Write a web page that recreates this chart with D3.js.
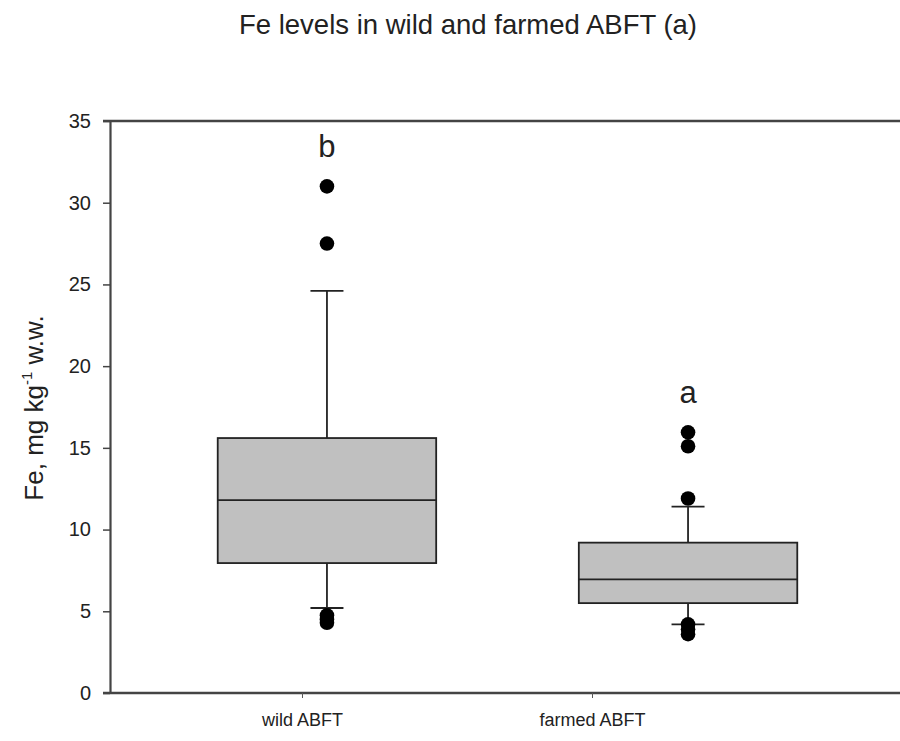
<!DOCTYPE html>
<html>
<head>
<meta charset="utf-8">
<script src="https://cdn.jsdelivr.net/npm/d3@7"></script>
<style>
  body { margin: 0; background: #fff; }
  text { font-family: "Liberation Sans", Arial, sans-serif; fill: #222; }
</style>
</head>
<body>
<div id="holder"></div>
<script>
// group names and letters
const groups = ["wild ABFT", "farmed ABFT"];
const letters = ["b", "a"];

// box stats per group: [lowCap, q1, median, q3, highCap]
const lowCaps = [5.2, 4.2];
const q1s = [7.95, 5.5];
const medians = [11.8, 6.95];
const q3s = [15.6, 9.2];
const highCaps = [24.6, 11.4];

// outliers per group
const outliersWild = [31.0, 27.5, 4.75, 4.5, 4.3];
const outliersFarmed = [15.95, 15.1, 11.9, 4.2, 3.9, 3.6];

const yTicks = [0, 5, 10, 15, 20, 25, 30, 35];

const w = 900, h = 741;
const margin = {top: 121, right: 0, bottom: 48, left: 110};

const svg = d3.select("#holder")
    .append("svg")
    .attr("width", w)
    .attr("height", h);

const yScale = d3.scaleLinear()
    .domain([0, 35])
    .range([h - margin.bottom, margin.top]);

// boxes sit on one point scale, the category labels on a slightly different one
const xScale = d3.scalePoint()
    .domain(groups)
    .range([margin.left + 5, w - margin.right])
    .padding(0.587);

const xLabelScale = d3.scalePoint()
    .domain(groups)
    .range([margin.left, 784])
    .padding(0.662);

const boxWidth = xScale.step() * 0.605;
const capWidth = 33;

const data = groups.map((g, i) => ({
    name: g,
    letter: letters[i],
    low: lowCaps[i], q1: q1s[i], med: medians[i], q3: q3s[i], high: highCaps[i],
    outliers: [outliersWild, outliersFarmed][i]
}));

// axes
const yAxis = d3.axisLeft(yScale)
    .tickValues(yTicks)
    .tickSize(7)
    .tickSizeOuter(0)
    .tickPadding(12);

svg.append("g")
    .attr("transform", `translate(${margin.left},0)`)
    .call(yAxis)
    .call(g => g.select(".domain").attr("stroke", "#444").attr("stroke-width", 2.2))
    .call(g => g.selectAll(".tick line").attr("stroke", "#444").attr("stroke-width", 1.5))
    .call(g => g.selectAll(".tick text").style("font-size", "20px").attr("fill", "#222"));

const xAxis = d3.axisBottom(xLabelScale)
    .tickSize(5)
    .tickSizeOuter(0)
    .tickPadding(15);

svg.append("g")
    .attr("transform", `translate(0,${yScale(0)})`)
    .call(xAxis)
    .call(g => g.select(".domain").attr("stroke", "#444").attr("stroke-width", 2.6)
        .attr("d", `M${margin.left - 7},0H${w}`))
    .call(g => g.selectAll(".tick line").attr("stroke", "#555").attr("stroke-width", 1))
    .call(g => g.selectAll(".tick text").style("font-size", "18px").attr("fill", "#222"));

// top border
svg.append("line")
    .attr("x1", margin.left - 7).attr("x2", w)
    .attr("y1", yScale(35)).attr("y2", yScale(35))
    .attr("stroke", "#444").attr("stroke-width", 2.6);

// boxes
const box = svg.selectAll("g.box")
    .data(data)
    .enter()
    .append("g")
    .attr("class", "box");

box.append("line")
    .attr("x1", d => xScale(d.name)).attr("x2", d => xScale(d.name))
    .attr("y1", d => yScale(d.high)).attr("y2", d => yScale(d.low))
    .attr("stroke", "#222").attr("stroke-width", 1.8);

box.append("rect")
    .attr("x", d => xScale(d.name) - boxWidth / 2)
    .attr("width", boxWidth)
    .attr("y", d => yScale(d.q3))
    .attr("height", d => yScale(d.q1) - yScale(d.q3))
    .attr("fill", "#c0c0c0")
    .attr("stroke", "#222")
    .attr("stroke-width", 1.8);

box.append("line")
    .attr("x1", d => xScale(d.name) - boxWidth / 2).attr("x2", d => xScale(d.name) + boxWidth / 2)
    .attr("y1", d => yScale(d.med)).attr("y2", d => yScale(d.med))
    .attr("stroke", "#222").attr("stroke-width", 1.8);

box.selectAll("line.cap")
    .data(d => [d.low, d.high].map(v => ({x: xScale(d.name), v})))
    .enter()
    .append("line")
    .attr("class", "cap")
    .attr("x1", d => d.x - capWidth / 2).attr("x2", d => d.x + capWidth / 2)
    .attr("y1", d => yScale(d.v)).attr("y2", d => yScale(d.v))
    .attr("stroke", "#222").attr("stroke-width", 1.8);

box.selectAll("circle")
    .data(d => d.outliers.map(v => ({x: xScale(d.name), v})))
    .enter()
    .append("circle")
    .attr("cx", d => d.x)
    .attr("cy", d => yScale(d.v))
    .attr("r", 7.3)
    .attr("fill", "#000");

box.append("text")
    .attr("x", d => xScale(d.name))
    .attr("y", d => yScale(d3.max(d.outliers)) - 29)
    .attr("text-anchor", "middle")
    .style("font-size", "31px")
    .text(d => d.letter);

// title
svg.append("text")
    .attr("x", 468)
    .attr("y", 34)
    .attr("text-anchor", "middle")
    .style("font-size", "27.5px")
    .text("Fe levels in wild and farmed ABFT (a)");

// y label
svg.append("text")
    .attr("transform", `translate(43,408) rotate(-90)`)
    .attr("text-anchor", "middle")
    .style("font-size", "26px")
    .call(t => {
        t.append("tspan").text("Fe, mg kg");
        t.append("tspan").attr("dy", -11).style("font-size", "15px").text("-1");
        t.append("tspan").attr("dy", 11).text(" w.w.");
    });
</script>
</body>
</html>
